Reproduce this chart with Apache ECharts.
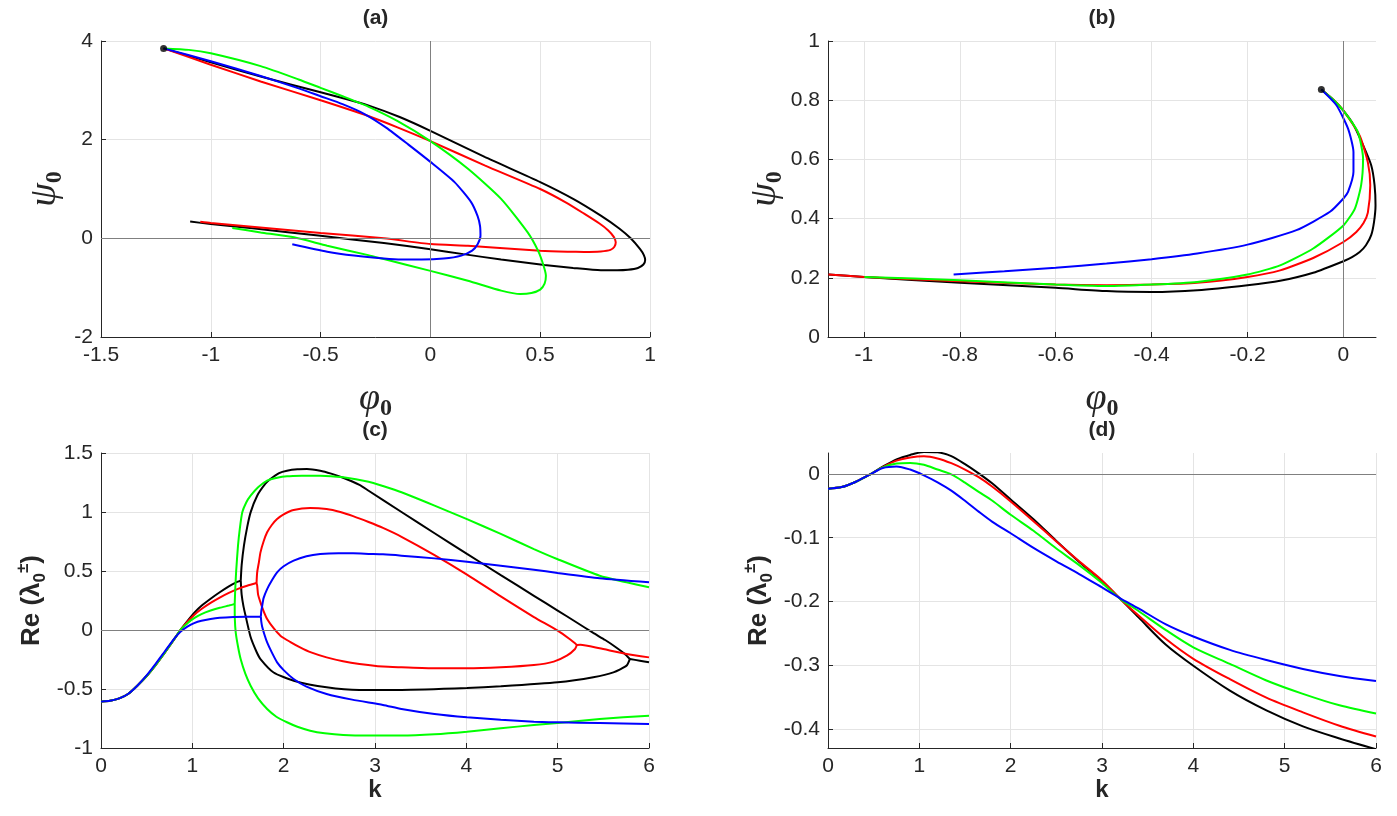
<!DOCTYPE html>
<html>
<head>
<meta charset="utf-8">
<script src="https://cdn.jsdelivr.net/npm/echarts@6/dist/echarts.min.js"></script>
<style>
html, body { margin: 0; padding: 0; background: #fff; }
#chart { width: 1397px; height: 816px; }
</style>
</head>
<body>
<div id="chart"></div>
<script>
// ---- (a) psi0 against phi0, one curve per case ----
var aStart = [[-1.215, 3.85]];
var aBlack = [[-1.215,3.85],[-1.0,3.57],[-0.773,3.28],[-0.5,2.96],[-0.38,2.82],[-0.28,2.69],[-0.14,2.46],[0,2.18],[0.247,1.65],[0.5,1.14],[0.65,0.8],[0.776,0.46],[0.86,0.2],[0.912,0],[0.955,-0.22],[0.972,-0.34],[0.978,-0.44],[0.97,-0.53],[0.945,-0.6],[0.9,-0.635],[0.85,-0.645],[0.776,-0.645],[0.65,-0.6],[0.519,-0.54],[0.322,-0.43],[0.15,-0.32],[0,-0.22],[-0.212,-0.095],[-0.5,0.05],[-0.8,0.2],[-1.0,0.29],[-1.094,0.34]];
var aRed = [[-1.215,3.85],[-1.0,3.52],[-0.773,3.18],[-0.5,2.8],[-0.283,2.48],[-0.15,2.25],[0,1.97],[0.247,1.48],[0.5,1.0],[0.62,0.72],[0.7,0.5],[0.77,0.3],[0.81,0.16],[0.835,0.03],[0.844,-0.08],[0.838,-0.17],[0.82,-0.235],[0.776,-0.265],[0.7,-0.275],[0.625,-0.27],[0.5,-0.25],[0.3,-0.19],[0.171,-0.15],[0,-0.115],[-0.212,0.0],[-0.5,0.11],[-0.8,0.23],[-1.0,0.31],[-1.048,0.335]];
var aGreen = [[-1.215,3.85],[-1.1,3.82],[-1.0,3.75],[-0.773,3.49],[-0.6,3.22],[-0.5,3.05],[-0.4,2.88],[-0.283,2.67],[-0.151,2.38],[0,1.97],[0.171,1.41],[0.322,0.8],[0.443,0.12],[0.49,-0.25],[0.515,-0.55],[0.526,-0.76],[0.52,-0.92],[0.5,-1.04],[0.46,-1.11],[0.41,-1.13],[0.322,-1.06],[0.171,-0.86],[0,-0.66],[-0.212,-0.42],[-0.283,-0.34],[-0.47,-0.15],[-0.621,0.02],[-0.773,0.12],[-0.902,0.21]];
var aBlue = [[-1.215,3.85],[-1.0,3.59],[-0.773,3.29],[-0.6,3.04],[-0.5,2.88],[-0.4,2.72],[-0.3,2.52],[-0.2,2.24],[-0.1,1.9],[0,1.55],[0.11,1.14],[0.186,0.73],[0.215,0.45],[0.226,0.25],[0.228,0.05],[0.215,-0.12],[0.19,-0.25],[0.141,-0.35],[0.06,-0.41],[-0.04,-0.43],[-0.132,-0.43],[-0.212,-0.41],[-0.348,-0.35],[-0.47,-0.27],[-0.629,-0.12]];

// ---- (b) zoomed case ----
var bStart = [[-0.046, 0.836]];
var bBlack = [[-0.046,0.836],[-0.02,0.8],[0,0.765],[0.02,0.72],[0.041,0.648],[0.058,0.58],[0.065,0.513],[0.067,0.445],[0.064,0.39],[0.058,0.344],[0.047,0.31],[0.034,0.287],[0.018,0.27],[0,0.256],[-0.063,0.217],[-0.132,0.19],[-0.2,0.175],[-0.305,0.158],[-0.4,0.152],[-0.494,0.155],[-0.6,0.166],[-0.8,0.183],[-1.0,0.203],[-1.074,0.211]];
var bRed = [[-0.046,0.836],[-0.02,0.8],[0,0.765],[0.034,0.68],[0.051,0.59],[0.056,0.513],[0.051,0.42],[0.042,0.385],[0.027,0.355],[0,0.321],[-0.063,0.267],[-0.132,0.225],[-0.2,0.203],[-0.305,0.183],[-0.4,0.177],[-0.494,0.175],[-0.6,0.177],[-0.8,0.188],[-1.0,0.203],[-1.074,0.211]];
var bGreen = [[-0.046,0.836],[-0.02,0.8],[0,0.765],[0.03,0.693],[0.041,0.603],[0.037,0.513],[0.024,0.434],[0,0.377],[-0.063,0.299],[-0.132,0.242],[-0.2,0.211],[-0.305,0.186],[-0.4,0.177],[-0.494,0.172],[-0.6,0.177],[-0.8,0.192],[-0.999,0.203]];
var bBlue = [[-0.046,0.836],[-0.0145,0.783],[0.0097,0.704],[0.021,0.625],[0.021,0.558],[0.0097,0.49],[0,0.468],[-0.028,0.423],[-0.098,0.361],[-0.2,0.312],[-0.305,0.282],[-0.4,0.263],[-0.494,0.248],[-0.6,0.234],[-0.707,0.222],[-0.813,0.211]];
var bTicks = [-1, -0.8, -0.6, -0.4, -0.2, 0];

// ---- (c) Re(lambda) against k: shared rise, then two real branches ----
var cBlackRise = [[0,-0.607],[0.1,-0.6],[0.2,-0.58],[0.3,-0.54],[0.4,-0.47],[0.5,-0.39],[0.6,-0.295],[0.7,-0.19],[0.8,-0.08],[0.87,0],[0.95,0.08],[1.02,0.145],[1.1,0.205],[1.2,0.265],[1.3,0.32],[1.4,0.37],[1.47,0.4],[1.53,0.418]];
var cBlackUp = [[1.53,0.418],[1.54,0.55],[1.565,0.715],[1.6,0.87],[1.638,0.997],[1.71,1.138],[1.8,1.24],[1.855,1.28],[1.95,1.33],[2.036,1.35],[2.15,1.362],[2.254,1.364],[2.4,1.35],[2.52,1.325],[2.65,1.29],[2.83,1.23],[2.93,1.18],[3.29,1.0],[3.652,0.82],[4.007,0.645],[4.377,0.465],[4.74,0.29],[5.0,0.165],[5.2,0.068],[5.39,-0.025],[5.52,-0.085],[5.645,-0.15],[5.73,-0.2],[5.79,-0.246]];
var cBlackLow = [[1.53,0.418],[1.54,0.3],[1.56,0.2],[1.583,0.12],[1.638,-0.06],[1.7,-0.18],[1.746,-0.246],[1.89,-0.36],[2.11,-0.43],[2.47,-0.486],[2.83,-0.508],[3.29,-0.508],[4.007,-0.492],[4.377,-0.477],[5.0,-0.443],[5.39,-0.4],[5.61,-0.359],[5.754,-0.302],[5.79,-0.246]];
var cBlackTail = [[5.79,-0.246],[5.9,-0.26],[6.0,-0.274]];
var cRedRise = [[0,-0.607],[0.1,-0.6],[0.2,-0.58],[0.3,-0.54],[0.4,-0.47],[0.5,-0.39],[0.6,-0.295],[0.7,-0.19],[0.8,-0.08],[0.87,0],[0.95,0.072],[1.02,0.128],[1.1,0.178],[1.2,0.23],[1.3,0.275],[1.4,0.315],[1.5,0.348],[1.6,0.375],[1.703,0.398]];
var cRedUp = [[1.703,0.398],[1.71,0.489],[1.73,0.58],[1.746,0.658],[1.78,0.75],[1.819,0.828],[1.87,0.89],[1.928,0.94],[2.0,0.98],[2.109,1.017],[2.29,1.034],[2.47,1.025],[2.62,1.0],[2.76,0.965],[2.93,0.915],[3.087,0.865],[3.29,0.79],[3.652,0.635],[4.007,0.47],[4.377,0.285],[4.74,0.11],[5.0,-0.005],[5.138,-0.08],[5.19,-0.112],[5.21,-0.127]];
var cRedLow = [[1.703,0.398],[1.71,0.376],[1.72,0.3],[1.746,0.234],[1.78,0.16],[1.819,0.093],[1.89,0.015],[1.964,-0.048],[2.07,-0.1],[2.18,-0.147],[2.3,-0.19],[2.47,-0.232],[2.65,-0.265],[2.83,-0.288],[3.087,-0.31],[3.29,-0.316],[3.652,-0.325],[4.007,-0.325],[4.377,-0.316],[4.74,-0.297],[4.957,-0.268],[5.1,-0.218],[5.19,-0.161],[5.21,-0.127]];
var cRedTail = [[5.21,-0.127],[5.25,-0.124],[5.46,-0.155],[5.754,-0.203],[6.0,-0.232]];
var cGreenRise = [[0,-0.607],[0.1,-0.6],[0.2,-0.58],[0.3,-0.54],[0.4,-0.47],[0.5,-0.39],[0.6,-0.295],[0.7,-0.19],[0.8,-0.08],[0.87,0],[0.95,0.06],[1.02,0.1],[1.1,0.135],[1.2,0.165],[1.3,0.188],[1.4,0.207],[1.464,0.22]];
var cGreenUp = [[1.464,0.22],[1.47,0.35],[1.48,0.5],[1.5,0.715],[1.52,0.86],[1.547,0.997],[1.59,1.08],[1.638,1.138],[1.72,1.21],[1.819,1.266],[1.93,1.29],[2.036,1.302],[2.2,1.307],[2.4,1.308],[2.652,1.294],[2.93,1.257],[3.087,1.22],[3.29,1.167],[3.652,1.054],[4.007,0.94],[4.377,0.814],[4.74,0.686],[5.0,0.6],[5.46,0.46],[5.754,0.404],[6.0,0.362]];
var cGreenLow = [[1.464,0.22],[1.465,0.1],[1.475,-0.02],[1.5,-0.14],[1.529,-0.246],[1.58,-0.37],[1.638,-0.472],[1.72,-0.58],[1.819,-0.67],[1.92,-0.735],[2.036,-0.782],[2.15,-0.82],[2.29,-0.853],[2.45,-0.875],[2.652,-0.89],[2.93,-0.895],[3.29,-0.895],[3.652,-0.884],[4.007,-0.862],[4.377,-0.833],[4.74,-0.805],[5.0,-0.788],[5.46,-0.754],[6.0,-0.726]];
var cBlueRise = [[0,-0.607],[0.1,-0.6],[0.2,-0.58],[0.3,-0.54],[0.4,-0.47],[0.5,-0.385],[0.6,-0.285],[0.7,-0.18],[0.8,-0.075],[0.87,-0.015],[0.95,0.03],[1.02,0.058],[1.1,0.078],[1.2,0.093],[1.3,0.103],[1.45,0.11],[1.6,0.113],[1.75,0.113]];
var cBlueUp = [[1.75,0.113],[1.755,0.16],[1.764,0.2],[1.78,0.27],[1.819,0.347],[1.87,0.42],[1.928,0.489],[2.0,0.54],[2.109,0.588],[2.25,0.625],[2.4,0.644],[2.6,0.651],[2.76,0.65],[2.93,0.645],[3.087,0.641],[3.29,0.63],[3.652,0.607],[4.007,0.579],[4.377,0.545],[4.74,0.511],[5.0,0.483],[5.46,0.438],[6.0,0.404]];
var cBlueLow = [[1.75,0.113],[1.755,0.07],[1.764,0.03],[1.79,-0.04],[1.819,-0.105],[1.87,-0.19],[1.928,-0.274],[2.0,-0.34],[2.109,-0.415],[2.25,-0.48],[2.47,-0.542],[2.75,-0.59],[3.087,-0.635],[3.29,-0.669],[3.652,-0.712],[4.007,-0.74],[4.377,-0.76],[4.74,-0.777],[5.0,-0.782],[5.46,-0.788],[6.0,-0.797]];

// ---- (d) Re(lambda) against k, second case ----
var dK = [0,0.15,0.3,0.45,0.6,0.75,0.9,1.05,1.2,1.35,1.5,1.65,1.8,2.0,2.25,2.5,2.75,3.0,3.2,3.4,3.7,4.0,4.4,4.8,5.2,5.6,6.0];
var dBlack = [-0.023,-0.0205,-0.0125,-0.0015,0.0115,0.023,0.030,0.0345,0.034,0.028,0.0155,0.001,-0.015,-0.04,-0.071,-0.105,-0.138,-0.168,-0.196,-0.225,-0.268,-0.301,-0.34,-0.371,-0.396,-0.415,-0.432];
var dRed = [-0.023,-0.0205,-0.0125,-0.0015,0.011,0.021,0.026,0.0278,0.0245,0.017,0.007,-0.005,-0.02,-0.043,-0.074,-0.106,-0.137,-0.167,-0.196,-0.222,-0.259,-0.29,-0.322,-0.351,-0.374,-0.395,-0.412];
var dGreen = [-0.023,-0.0205,-0.0125,-0.0015,0.0105,0.0165,0.0175,0.0145,0.007,-0.0005,-0.0135,-0.028,-0.042,-0.064,-0.089,-0.117,-0.143,-0.171,-0.196,-0.215,-0.245,-0.272,-0.298,-0.324,-0.345,-0.363,-0.376];
var dBlue = [-0.023,-0.0205,-0.0125,-0.0015,0.0095,0.012,0.007,-0.002,-0.013,-0.026,-0.042,-0.059,-0.075,-0.093,-0.116,-0.137,-0.157,-0.178,-0.195,-0.211,-0.236,-0.255,-0.276,-0.292,-0.306,-0.317,-0.325];
var dTicks = [-0.4, -0.3, -0.2, -0.1, 0];

var AX = '#262626', GRID = '#e4e4e4', ZERO = '#808080';
var SANS = 'Liberation Sans, Arial, sans-serif';
var SERIF = 'Liberation Serif, DejaVu Serif, serif';

function pairs(xs, ys) {
    return xs.map(function (x, i) { return [x, ys[i]]; });
}

function curve(i, color, data, smooth) {
    return {
        type: 'line', xAxisIndex: i, yAxisIndex: i, data: data,
        symbol: 'none', showSymbol: false, smooth: smooth || 0.2, silent: true,
        lineStyle: { color: color, width: 2 }, itemStyle: { color: color }
    };
}

function fn(i, color, ys) {
    return curve(i, color, pairs(dK, ys), 0.3);
}

function zeroLines(i, lines) {
    return {
        type: 'line', xAxisIndex: i, yAxisIndex: i, data: [], z: 1, silent: true,
        markLine: {
            symbol: ['none', 'none'], silent: true, animation: false,
            label: { show: false },
            lineStyle: { color: ZERO, width: 1, type: 'solid' },
            data: lines
        }
    };
}

function dot(i, data) {
    return {
        type: 'scatter', xAxisIndex: i, yAxisIndex: i, data: data, z: 5,
        symbolSize: 7, itemStyle: { color: '#000' }, silent: true
    };
}

function axis(extra) {
    var base = {
        type: 'value',
        axisLine: { show: true, onZero: false, lineStyle: { color: AX, width: 1 } },
        axisTick: { show: true, inside: true, length: 5, lineStyle: { color: AX } },
        axisLabel: { color: AX, fontSize: 21, fontFamily: SANS, margin: 8 },
        splitLine: { show: true, lineStyle: { color: GRID, width: 1 } },
        nameLocation: 'middle'
    };
    return echarts.util.merge(base, extra, true);
}

var greekName = {
    color: AX,
    rich: {
        v: { fontFamily: SERIF, fontStyle: 'italic', fontSize: 38, lineHeight: 44, color: AX },
        s: { fontFamily: SERIF, fontWeight: 'bold', fontSize: 24, lineHeight: 24, verticalAlign: 'bottom', color: AX }
    }
};
var reName = {
    color: AX,
    rich: {
        m: { fontFamily: SANS, fontWeight: 'bold', fontSize: 26, lineHeight: 34, color: AX },
        sub: { fontFamily: SANS, fontWeight: 'bold', fontSize: 17, lineHeight: 17, verticalAlign: 'bottom', color: AX },
        sup: { fontFamily: SANS, fontWeight: 'bold', fontSize: 17, lineHeight: 17, verticalAlign: 'top', color: AX }
    }
};
var kName = { color: AX, fontFamily: SANS, fontWeight: 'bold', fontSize: 24 };

var grids = [
    { left: 101, top: 41, width: 549, height: 296 },
    { left: 828, top: 41, width: 548, height: 296 },
    { left: 101, top: 453, width: 548, height: 295 },
    { left: 828, top: 453, width: 548, height: 295 }
];

var xAxes = [
    axis({ gridIndex: 0, min: -1.5, max: 1, interval: 0.5, name: '{v|φ}{s|0}', nameGap: 40, nameTextStyle: greekName }),
    axis({ gridIndex: 1, min: -1.075, max: 0.068, splitNumber: 6,
        axisTick: { customValues: bTicks }, axisLabel: { customValues: bTicks },
        name: '{v|φ}{s|0}', nameGap: 40, nameTextStyle: greekName }),
    axis({ gridIndex: 2, min: 0, max: 6, interval: 1, name: 'k', nameGap: 30, nameTextStyle: kName }),
    axis({ gridIndex: 3, min: 0, max: 6, interval: 1, name: 'k', nameGap: 30, nameTextStyle: kName })
];

var yAxes = [
    axis({ gridIndex: 0, min: -2, max: 4, interval: 2, name: '{v|ψ}{s|0}', nameGap: 34, nameTextStyle: greekName }),
    axis({ gridIndex: 1, min: 0, max: 1, interval: 0.2, name: '{v|ψ}{s|0}', nameGap: 38, nameTextStyle: greekName }),
    axis({ gridIndex: 2, min: -1, max: 1.5, interval: 0.5, name: '{m|Re (λ}{sub|0}{sup|±}{m|)}', nameGap: 52, nameTextStyle: reName }),
    axis({ gridIndex: 3, min: -0.43, max: 0.033, splitNumber: 5,
        axisTick: { customValues: dTicks }, axisLabel: { customValues: dTicks },
        name: '{m|Re (λ}{sub|0}{sup|±}{m|)}', nameGap: 52, nameTextStyle: reName })
];

var series = [
    zeroLines(0, [{ xAxis: 0 }, { yAxis: 0 }]),
    curve(0, '#000000', aBlack), curve(0, '#ff0000', aRed), curve(0, '#00ff00', aGreen), curve(0, '#0000ff', aBlue),
    dot(0, aStart),

    zeroLines(1, [{ xAxis: 0 }]),
    curve(1, '#000000', bBlack), curve(1, '#ff0000', bRed), curve(1, '#00ff00', bGreen), curve(1, '#0000ff', bBlue),
    dot(1, bStart),

    zeroLines(2, [{ yAxis: 0 }]),
    curve(2, '#000000', cBlackRise), curve(2, '#000000', cBlackUp), curve(2, '#000000', cBlackLow), curve(2, '#000000', cBlackTail),
    curve(2, '#ff0000', cRedRise), curve(2, '#ff0000', cRedUp), curve(2, '#ff0000', cRedLow), curve(2, '#ff0000', cRedTail),
    curve(2, '#00ff00', cGreenRise), curve(2, '#00ff00', cGreenUp), curve(2, '#00ff00', cGreenLow),
    curve(2, '#0000ff', cBlueRise), curve(2, '#0000ff', cBlueUp), curve(2, '#0000ff', cBlueLow),

    zeroLines(3, [{ yAxis: 0 }]),
    fn(3, '#000000', dBlack), fn(3, '#ff0000', dRed), fn(3, '#00ff00', dGreen), fn(3, '#0000ff', dBlue)
];

// panel letters, centred over each plot box
var titles = ['(a)', '(b)', '(c)', '(d)'].map(function (t, i) {
    var g = grids[i];
    return {
        type: 'text', x: g.left + g.width / 2, y: g.top - 23,
        style: { text: t, fill: AX, font: 'bold 21px ' + SANS, textAlign: 'center', textVerticalAlign: 'middle' }
    };
});

var chart = echarts.init(document.getElementById('chart'));
chart.setOption({
    animation: false,
    backgroundColor: '#ffffff',
    grid: grids,
    xAxis: xAxes,
    yAxis: yAxes,
    series: series,
    graphic: titles
});
</script>
</body>
</html>
